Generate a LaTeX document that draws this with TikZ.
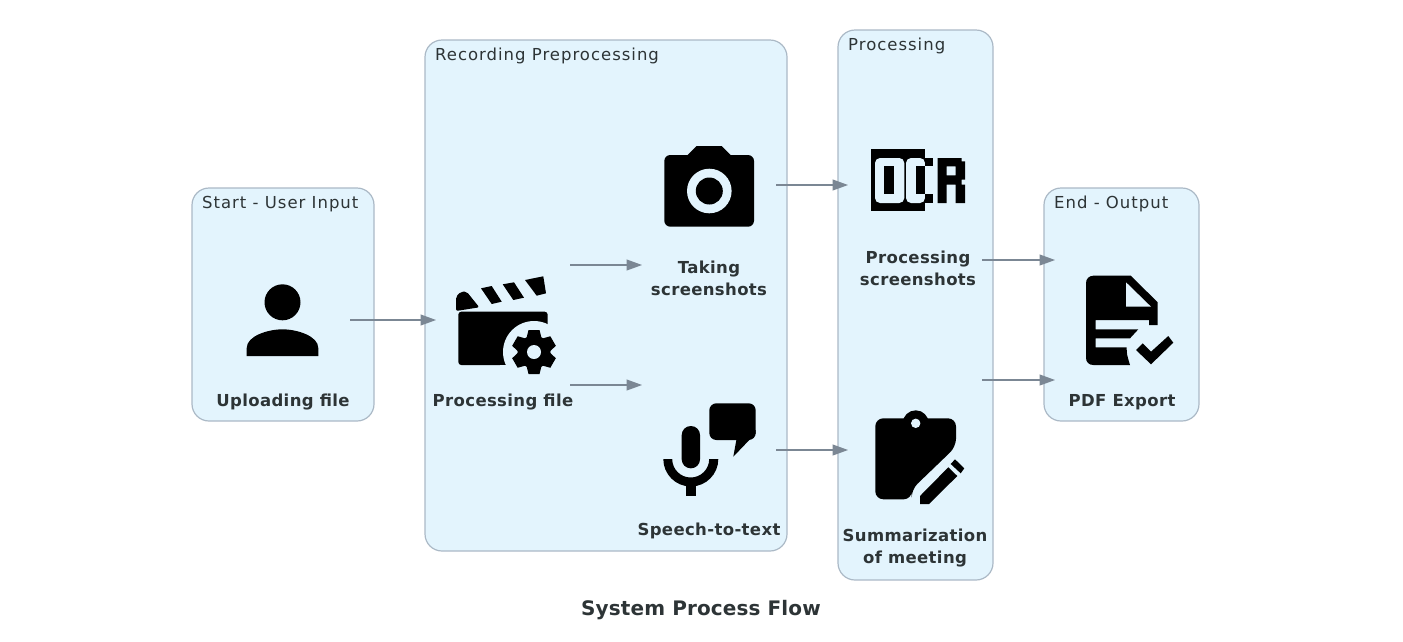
\documentclass[tikz,border=0pt]{standalone}
\usepackage{fontspec}
\setmainfont{DejaVu Sans}
\newfontfamily\ctitlefont[LetterSpace=6]{DejaVu Sans}
\newfontfamily\lblfont[LetterSpace=2.2]{DejaVu Sans}
\newfontfamily\flowfont[LetterSpace=0.7]{DejaVu Sans}
\usepackage{xcolor}
\usetikzlibrary{arrows.meta}
\definecolor{clusterfill}{HTML}{E3F4FD}
\definecolor{clusterline}{HTML}{ABB9C6}
\definecolor{arrowline}{HTML}{7B8794}
\definecolor{textdark}{HTML}{2D3436}

\begin{document}
\begin{tikzpicture}[x=1pt, y=-1pt,
    >={Triangle[length=15.5pt,width=11pt]},
    cluster/.style={draw=clusterline, line width=1.2pt, fill=clusterfill, rounded corners=17pt},
    ctitle/.style={font=\ctitlefont\fontsize{16.5}{18}\selectfont, text=textdark, anchor=west, inner sep=0pt},
    iconbox/.style={minimum width=134pt, minimum height=#1, inner sep=0pt, outer sep=0pt},
    iconbox/.default=120pt,
    lbl/.style={font=\lblfont\fontsize{16.5}{22}\selectfont\bfseries, text=textdark, align=center, inner sep=0pt},
    arr/.style={->, draw=arrowline, fill=arrowline, line width=1.1pt},
    icon/.style={fill=black},
    cut/.style={fill=clusterfill},
]
\useasboundingbox (0,0) rectangle (1403,641);

% --- Clusters ---
\draw[cluster] (192,188) rectangle (374,421);
\draw[cluster] (425,40) rectangle (787,551);
\draw[cluster] (838,30) rectangle (993,580);
\draw[cluster] (1044,188) rectangle (1199,421);
\node[ctitle] (start_title) at (202,204) {Start - User Input};
\node[ctitle] (rec_title) at (435,56) {Recording Preprocessing};
\node[ctitle] (proc_title) at (848,46) {Processing};
\node[ctitle] (end_title) at (1054,204) {End - Output};

% --- Icon boxes ---
\node[iconbox] (user) at (283,320) {};
\node[iconbox] (clapper) at (503,325) {};
\node[iconbox] (camera) at (709,185) {};
\node[iconbox] (speech) at (709,450) {};
\node[iconbox=150pt] (ocr) at (915,185) {};
\node[iconbox=140pt] (note) at (915,450) {};
\node[iconbox] (pdf) at (1122,320) {};

% --- Arrows ---
\draw[arr] (user.east) -- (user.east -| clapper.west);
\draw[arr] (clapper.north east) -- (clapper.north east -| camera.west);
\draw[arr] (clapper.south east) -- (clapper.south east -| speech.west);
\draw[arr] (camera.east) -- (camera.east -| ocr.west);
\draw[arr] (speech.east) -- (speech.east -| note.west);
\draw[arr] (ocr.south east) -- (ocr.south east -| pdf.west);
\draw[arr] (note.north east) -- (note.north east -| pdf.west);

% --- User icon ---
\fill[icon] (282.5,302.3) circle (18);
\fill[icon] (246.7,356) -- (246.7,348) .. controls (246.7,336) and (268,329.3) .. (282.5,329.3)
    .. controls (297,329.3) and (318.3,336) .. (318.3,348) -- (318.3,356) -- cycle;

% --- Clapper icon ---
\fill[icon, rounded corners=3pt] (458.3,311.7) -- (547.7,311.7) -- (547.7,365) -- (458.3,365) -- cycle;
\fill[icon, rounded corners=2pt] (456,311) -- (456,296.7) -- (461,291.7) -- (466.7,291.7) -- (479.3,307.3) -- cycle;
\fill[icon] (481,288.3) -- (491.7,286) -- (501.7,301.7) -- (491.7,304) -- cycle;
\fill[icon] (502.7,284.3) -- (514,282.3) -- (524,297.7) -- (513.3,300) -- cycle;
\fill[icon] (525,280) -- (543.3,276.3) -- (546,293.3) -- (536.7,295.7) -- cycle;
\fill[cut] (534,352) circle (31);
\fill[cut] (500,365.2) rectangle (566,380);
\fill[icon] (534,352) circle (16.5);
\foreach \a in {0,60,...,300} {
  \fill[icon, rotate around={\a:(534,352)}] (528.5,330) -- (539.5,330) -- (542,340) -- (526,340) -- cycle;
}
\fill[cut] (534,352) circle (7);

% --- Camera icon ---
\fill[icon, rounded corners=6pt] (664.3,155) rectangle (754,226.7);
\fill[icon] (686.7,156) -- (696.7,146) -- (721.7,146) -- (731.7,156) -- cycle;
\fill[cut] (709.3,191) circle (22.3);
\fill[icon] (709.3,191) circle (13.5);

% --- Speech icon ---
\fill[icon, rounded corners=9pt] (681.7,426) rectangle (700,468.3);
\fill[icon] (663.3,459) arc[start angle=180, end angle=0, radius=27.5] -- (709.2,459)
    arc[start angle=0, end angle=180, radius=18.5] -- cycle;
\fill[icon] (685.7,480) rectangle (695.7,496);
\fill[icon, rounded corners=7pt] (709.3,403.3) rectangle (755.7,440);
\fill[icon] (755.7,430) -- (755.7,433.3) -- (733.3,456.7) -- (736.7,438) -- cycle;

% --- OCR icon ---
\fill[icon] (870.7,148.7) rectangle (925,211.3);
\fill[cut, rounded corners=5pt] (875,158) rectangle (904.3,203);
\fill[icon] (884,166.3) rectangle (894.3,194);
\fill[cut, rounded corners=5pt] (906,158) -- (925,158) -- (925,203) -- (906,203) -- cycle;
\fill[icon] (916,166.3) rectangle (925,194);
\fill[icon] (925,158) rectangle (933.3,166.3);
\fill[icon] (925,194) rectangle (933.3,203);
\fill[icon, even odd rule] (937.7,158) -- (961.7,158) -- (961.7,161.3) -- (965,161.3) -- (965,179.7) -- (961.7,179.7)
    -- (961.7,184.7) -- (965,184.7) -- (965,203) -- (955.7,203) -- (955.7,184.7) -- (946.7,184.7) -- (946.7,203) -- (937.7,203) -- cycle
    (946.7,166.3) rectangle (955.7,175.3);

% --- Note icon ---
\fill[icon] (915.7,423.3) circle (13);
\fill[icon, rounded corners=8pt] (875.3,418.3) -- (956,418.3) -- (956,446.7) -- (911.7,489.3) -- (911.7,499.3) -- (875.3,499.3) -- cycle;
\fill[cut] (915.7,423.3) circle (4.7);
\fill[icon] (920,496) -- (948.3,467.3) -- (957.3,476) -- (929,504) -- (920,504) -- cycle;
\fill[icon] (955,459.3) -- (964.3,468.3) -- (960.7,473.3) -- (950.7,464) -- cycle;

% --- PDF icon ---
\fill[icon] (1093.3,275.7) -- (1130.7,275.7) -- (1157.7,302.3) -- (1157.7,325) -- (1149,325) -- (1149,320) -- (1095.7,320) -- (1095.7,329.3)
    -- (1138.3,329.3) -- (1130,338.3) -- (1095.7,338.3) -- (1095.7,347.3) -- (1126.7,347.3) .. controls (1126.7,354) .. (1130,365)
    -- (1093.3,365) .. controls (1089,365) and (1086,362) .. (1086,358) -- (1086,283) .. controls (1086,279) and (1089,275.7) .. (1093.3,275.7) -- cycle;
\fill[cut] (1126,282.3) -- (1151,306.7) -- (1126,306.7) -- cycle;
\fill[icon] (1136,350) -- (1142.7,343.3) -- (1151,351.7) -- (1168.3,336) -- (1173.3,342.7) -- (1151,364.3) -- cycle;

% --- Labels ---
\node[lbl] (user_lbl) at (283,402) {Uploading file};
\node[lbl] (clapper_lbl) at (503,402) {Processing file};
\node[lbl] (camera_lbl) at (709,278) {Taking\\screenshots};
\node[lbl] (speech_lbl) at (709,531) {Speech-to-text};
\node[lbl] (ocr_lbl) at (918,268) {Processing\\screenshots};
\node[lbl] (note_lbl) at (915,548) {Summarization\\of meeting};
\node[lbl] (pdf_lbl) at (1122,402) {PDF Export};
\node[font=\flowfont\fontsize{20}{24}\selectfont\bfseries, text=textdark, inner sep=0pt] (flow_title) at (701,610) {System Process Flow};

\end{tikzpicture}
\end{document}
